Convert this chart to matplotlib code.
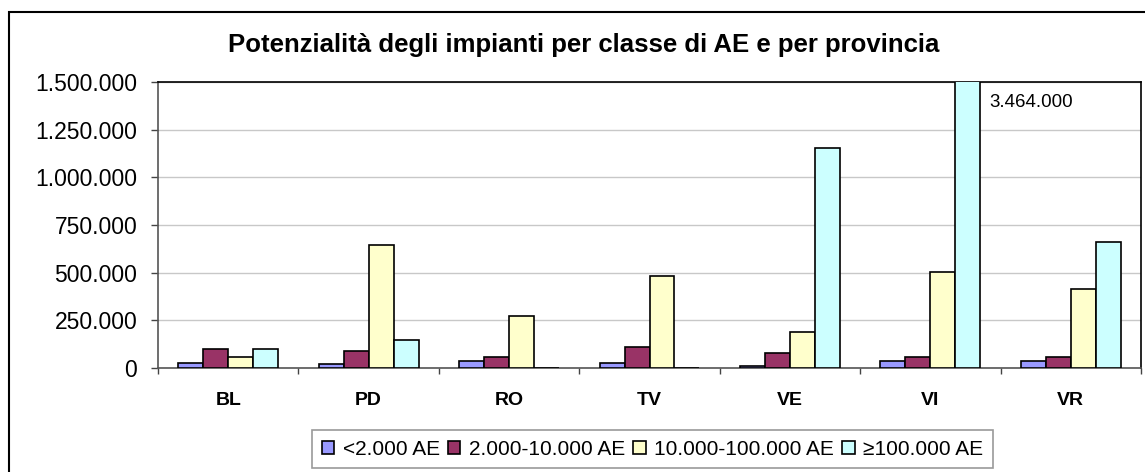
import matplotlib.pyplot as plt
import numpy as np
from matplotlib.patches import Rectangle
from matplotlib.ticker import FuncFormatter

plt.rcParams['font.family'] = ['Liberation Sans', 'DejaVu Sans']

provinces = ['BL', 'PD', 'RO', 'TV', 'VE', 'VI', 'VR']
series_names = ['<2.000 AE', '2.000-10.000 AE', '10.000-100.000 AE', '≥100.000 AE']
small = [28000, 19000, 37000, 28000, 9000, 37000, 37000]
medium = [98000, 88000, 58000, 108000, 79000, 58000, 58000]
large = [58000, 647000, 271000, 484000, 190000, 505000, 416000]
huge = [98000, 148000, 0, 0, 1155000, 3464000, 659000]
colors = ['#9999FF', '#993366', '#FFFFCC', '#CCFFFF']

y_max = 1500000
y_step = 250000


def it_fmt(v, pos=None):
    return f"{int(round(v)):,}".replace(',', '.')


fig = plt.figure(figsize=(11.45, 4.72), dpi=100)
ax = fig.add_axes([0.138, 0.2203, 0.8585, 0.606])

x = np.arange(len(provinces))
bar_w = 0.178
all_series = [small, medium, large, huge]
for i, (vals, col, name) in enumerate(zip(all_series, colors, series_names)):
    ax.bar(x + (i - 1.5) * bar_w, vals, width=bar_w, color=col,
           edgecolor='black', linewidth=1.2, label=name, zorder=3)

# the VI bar is cut at the top, so its value is written beside it
vi = provinces.index('VI')
ax.annotate(it_fmt(huge[vi]), xy=(x[vi] + 2 * bar_w, y_max),
            xytext=(6.5, -15), textcoords='offset points',
            fontsize=13.5, va='center', ha='left')

ax.set_xlim(-0.5, len(provinces) - 0.5)
ax.set_ylim(0, y_max)
ax.set_yticks(np.arange(0, y_max + 1, y_step))
ax.yaxis.set_major_formatter(FuncFormatter(it_fmt))
ax.tick_params(axis='y', labelsize=16.5, length=5, width=1, color='#444444', pad=10)
ax.grid(axis='y', color='#C8C8C8', linewidth=1, zorder=0)
ax.set_axisbelow(True)

ax.set_xticks(np.arange(len(provinces) + 1) - 0.5)
ax.set_xticklabels([])
ax.set_xticks(x, minor=True)
ax.set_xticklabels(provinces, minor=True, fontsize=14, fontweight='bold')
ax.tick_params(axis='x', which='major', length=4.5, width=1, color='#444444')
ax.tick_params(axis='x', which='minor', length=0, pad=17)

for s in ['left', 'bottom']:
    ax.spines[s].set_color('#555555')
    ax.spines[s].set_linewidth(1.2)
for s in ['top', 'right']:
    ax.spines[s].set_color('black')
    ax.spines[s].set_linewidth(1.2)

fig.text(0.510, 0.905, 'Potenzialità degli impianti per classe di AE e per provincia',
         ha='center', va='center', fontsize=18.5, fontweight='bold')

leg = fig.legend(loc='center', bbox_to_anchor=(0.5699, 0.0487), ncol=4,
                 fontsize=15, frameon=True, fancybox=False, handlelength=0.6,
                 handleheight=0.6, handletextpad=0.4, columnspacing=0.4,
                 borderpad=0.45, borderaxespad=0)
leg.get_frame().set_edgecolor('#808080')
leg.get_frame().set_linewidth(1.2)

# outer chart frame, only its left and top edges fall inside the image
fig.patches.append(Rectangle((9 / 1145, -0.1), 1.2, (1 - 12 / 472) + 0.1,
                             transform=fig.transFigure, fill=False,
                             edgecolor='black', linewidth=1.5))

fig.savefig('out.png', dpi=100)
